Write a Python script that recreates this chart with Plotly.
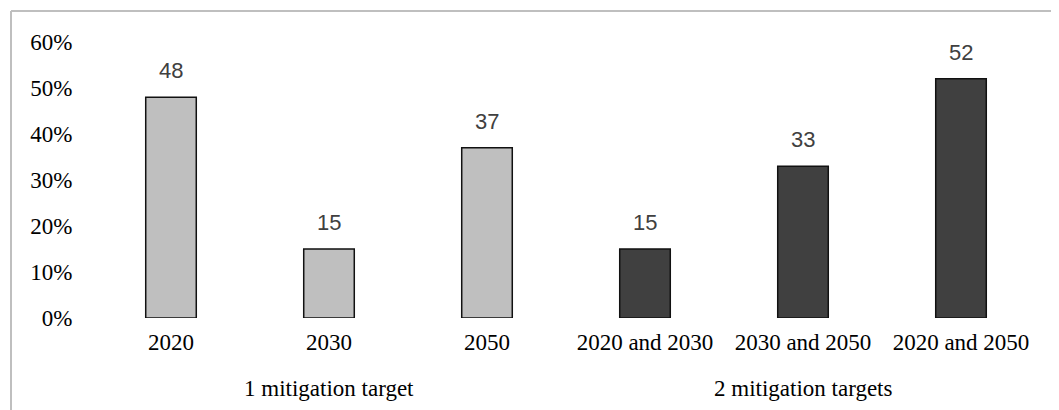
import plotly.graph_objects as go

categories = ["2020", "2030", "2050", "2020 and 2030", "2030 and 2050", "2020 and 2050"]
values = [48, 15, 37, 15, 33, 52]
groups = ["1 mitigation target", "1 mitigation target", "1 mitigation target",
          "2 mitigation targets", "2 mitigation targets", "2 mitigation targets"]
group_names = ["1 mitigation target", "2 mitigation targets"]
group_colors = {"1 mitigation target": "#BFBFBF", "2 mitigation targets": "#404040"}
y_ticks = [0, 10, 20, 30, 40, 50, 60]

# page has an 8px body margin, so the figure is drawn 8px in from the corner
W, H = 1051, 402
L, R, T, B = 84, 19, 34, 92

SERIF = "Liberation Serif, Times New Roman, serif"
SANS = "Liberation Sans, Arial, sans-serif"

pos = list(range(len(categories)))

fig = go.Figure()
fig.add_trace(go.Bar(
    x=pos,
    y=[v / 100 for v in values],
    width=0.32,
    marker=dict(color=[group_colors[g] for g in groups],
                line=dict(color="#111111", width=1.5)),
    hoverinfo="skip",
))

for p, v in zip(pos, values):
    fig.add_annotation(x=p, y=v / 100, text=str(v), showarrow=False,
                       yanchor="bottom", yshift=12,
                       font=dict(family=SANS, size=22, color="#404040"))

for g in group_names:
    idx = [i for i, gg in enumerate(groups) if gg == g]
    fig.add_annotation(x=sum(idx) / len(idx), y=0, yref="paper", text=g, showarrow=False,
                       yanchor="middle", yshift=-70,
                       font=dict(family=SERIF, size=23, color="#000000"))

pw = W - L - R
ph = H - T - B
x0 = (3 - L) / pw
ytop = 1 + (T - 3) / ph
ybot = -(B + 5) / ph
fig.add_shape(type="line", xref="paper", yref="paper", x0=x0, x1=x0, y0=ybot, y1=ytop,
              line=dict(color="#BFBFBF", width=2))
fig.add_shape(type="line", xref="paper", yref="paper", x0=x0, x1=(W + 5 - L) / pw, y0=ytop, y1=ytop,
              line=dict(color="#BFBFBF", width=2))

fig.update_layout(
    width=W, height=H,
    margin=dict(l=L, r=R, t=T, b=B, autoexpand=False),
    paper_bgcolor="white", plot_bgcolor="white",
    showlegend=False,
    font=dict(family=SERIF, size=23, color="#000000"),
    xaxis=dict(range=[-0.5, len(categories) - 0.5], tickvals=pos, ticktext=categories,
               showgrid=False, showline=False, zeroline=False,
               ticks="outside", ticklen=3, tickcolor="rgba(0,0,0,0)",
               tickfont=dict(family=SERIF, size=23, color="#000000")),
    yaxis=dict(range=[0, 0.6], tickvals=[t / 100 for t in y_ticks],
               ticktext=[f"{t}%" for t in y_ticks],
               showgrid=False, showline=False, zeroline=False,
               ticks="outside", ticklen=14, tickcolor="rgba(0,0,0,0)",
               tickfont=dict(family=SERIF, size=23, color="#000000")),
)

fig.write_html("out.html")
